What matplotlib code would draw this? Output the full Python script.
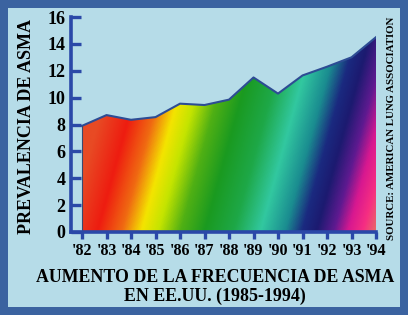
import numpy as np
import matplotlib
matplotlib.use("Agg")
import matplotlib.pyplot as plt
from matplotlib.colors import LinearSegmentedColormap
from matplotlib.patches import Polygon, Rectangle

years = ["'82", "'83", "'84", "'85", "'86", "'87", "'88", "'89", "'90", "'91", "'92", "'93", "'94"]
prevalence = [7.9, 8.7, 8.35, 8.55, 9.55, 9.45, 9.85, 11.5, 10.3, 11.65, 12.3, 13.0, 14.5]
yticks = [0, 2, 4, 6, 8, 10, 12, 14, 16]

ylabel = "PREVALENCIA DE ASMA"
source = "SOURCE: AMERICAN LUNG ASSOCIATION"
title1 = "AUMENTO DE LA FRECUENCIA DE ASMA"
title2 = "EN EE.UU. (1985-1994)"

BORDER = "#3b63a0"
PANEL = "#b6dce8"
AXBLUE = "#2a48a8"
SERIF = ["Liberation Serif", "DejaVu Serif"]

W, H = 408, 315
fig = plt.figure(figsize=(W / 100, H / 100), dpi=100, facecolor=BORDER)
bg = fig.add_axes([0, 0, 1, 1], zorder=-5)
bg.set_axis_off()
bg.set_xlim(0, W)
bg.set_ylim(H, 0)
bg.add_patch(Rectangle((8, 8), 400 - 8, 307 - 8, facecolor=PANEL, edgecolor="none"))

ax = fig.add_axes([71 / W, (H - 232) / H, (376 - 71) / W, (232 - 17) / H], zorder=1)
ax.set_facecolor("none")
n = len(years)
x = np.arange(n)
ax.set_xlim(-0.45, n - 1)
ax.set_ylim(0, 16)

# rainbow gradient, slanted
stops = [(-0.6, "#e84a24"), (0.6, "#ee1c10"), (1.6, "#f06a12"), (2.4, "#f4e400"),
         (3.1, "#c4e400"), (4.0, "#50b014"), (5.0, "#1a9a20"), (6.2, "#1ea848"),
         (7.3, "#32c8a0"), (8.3, "#1a8c90"), (9.0, "#1a2a80"), (9.6, "#1c1a70"),
         (10.3, "#5e1a90"), (10.9, "#d81890"), (11.5, "#f62e82"), (12.3, "#e08a58")]
u0, u1 = stops[0][0], stops[-1][0]
cmap = LinearSegmentedColormap.from_list(
    "rb", [((s - u0) / (u1 - u0), c) for s, c in stops])
gx = np.linspace(-0.45, n - 1, 400)
gy = np.linspace(0, 16, 200)
GX, GY = np.meshgrid(gx, gy)
U = GX - 0.15 * GY
img = ax.imshow(U, extent=(-0.45, n - 1, 0, 16), origin="lower", aspect="auto",
                cmap=cmap, vmin=u0, vmax=u1, interpolation="bilinear", zorder=1)
verts = [(0, 0)] + list(zip(x, prevalence)) + [(n - 1, 0)]
poly = Polygon(verts, closed=True, facecolor="none", edgecolor="none",
               transform=ax.transData)
ax.add_patch(poly)
img.set_clip_path(poly)
ax.plot(x, prevalence, color="#2d4c94", lw=1.5, zorder=3)
ax.plot([0, 0], [0, prevalence[0]], color="#3a4a70", lw=0.8, zorder=3)

for s in ("top", "right"):
    ax.spines[s].set_visible(False)
for s in ("left", "bottom"):
    ax.spines[s].set_color(AXBLUE)
    ax.spines[s].set_linewidth(2.6)
    ax.spines[s].set_zorder(4)

ax.set_yticks(yticks)
ax.set_yticklabels([str(v) for v in yticks])
ax.set_xticks(x)
ax.set_xticklabels(years)
ax.tick_params(axis="y", direction="in", length=7, width=2.4, color=AXBLUE, pad=4)
ax.tick_params(axis="x", direction="out", length=5, width=2.4, color=AXBLUE, pad=3)
for lab in ax.get_yticklabels():
    lab.set_fontfamily(SERIF)
    lab.set_fontweight("bold")
    lab.set_fontsize(13)
for lab in ax.get_xticklabels():
    lab.set_fontfamily(SERIF)
    lab.set_fontweight("bold")
    lab.set_fontsize(11.5)

fig.text(27 / W, 1 - 127 / H, ylabel, rotation=90, ha="center", va="center",
         fontsize=13, fontweight="bold", family=SERIF)
fig.text(391 / W, 1 - 128 / H, source, rotation=90, ha="center", va="center",
         fontsize=7.8, fontweight="bold", family=SERIF)
fig.text(215 / W, 1 - 278 / H, title1, ha="center", va="center",
         fontsize=12.9, fontweight="bold", family=SERIF)
fig.text(215 / W, 1 - 296 / H, title2, ha="center", va="center",
         fontsize=12.9, fontweight="bold", family=SERIF)

fig.savefig("out.png", dpi=100, facecolor=BORDER)
